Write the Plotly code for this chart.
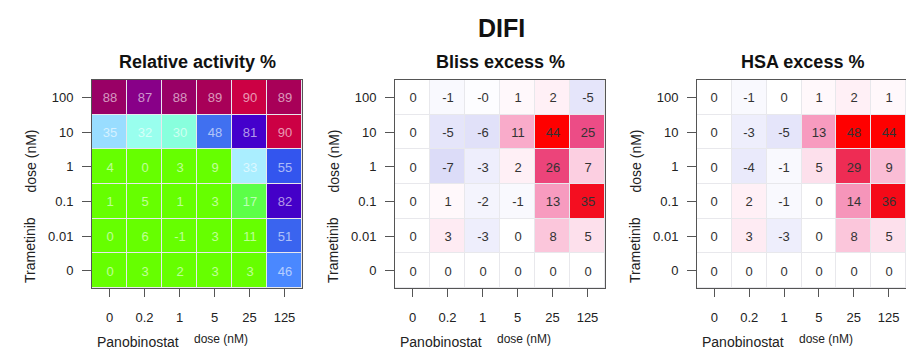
import plotly.graph_objects as go

W, H = 906, 352

# ---------------- data ----------------
pano_doses = ["0", "0.2", "1", "5", "25", "125"]          # x (Panobinostat, nM)
tram_doses = ["100", "10", "1", "0.1", "0.01", "0"]        # y, top to bottom (Trametinib, nM)

relative_activity = [
    [88, 87, 88, 89, 90, 89],
    [35, 32, 30, 48, 81, 90],
    [4, 0, 3, 9, 33, 55],
    [1, 5, 1, 3, 17, 82],
    [0, 6, -1, 3, 11, 51],
    [0, 3, 2, 3, 3, 46],
]
bliss_excess = [
    [0, -1, -0.3, 1, 2, -5],
    [0, -5, -6, 11, 44, 25],
    [0, -7, -3, 2, 26, 7],
    [0, 1, -2, -1, 13, 35],
    [0, 3, -3, 0, 8, 5],
    [0, 0, 0, 0, 0, 0],
]
hsa_excess = [
    [0, -1, 0, 1, 2, 1],
    [0, -3, -5, 13, 48, 44],
    [0, -4, -1, 5, 29, 9],
    [0, 2, -1, 0, 14, 36],
    [0, 3, -3, 0, 8, 5],
    [0, 0, 0, 0, 0, 0],
]

panel_titles = ["Relative activity %", "Bliss excess %", "HSA excess %"]
main_title = "DIFI"

# ---------------- styles ----------------
activity_scale = [
    [0.00, "#66ff00"], [0.12, "#66ff00"], [0.17, "#5cff48"],
    [0.30, "#88ffdd"], [0.32, "#99ffee"], [0.33, "#aaeeff"],
    [0.35, "#99ddff"], [0.46, "#4a88ff"], [0.48, "#4070f0"],
    [0.55, "#3355ee"], [0.81, "#4400cc"], [0.82, "#4400c8"],
    [0.87, "#880088"], [0.88, "#990066"], [0.89, "#a80058"],
    [0.90, "#cc0044"], [1.00, "#cc0044"],
]
excess_scale = [
    [0.00, "#b8b8f4"], [0.43, "#dcdcf8"], [0.47, "#eeeefc"],
    [0.50, "#ffffff"], [0.52, "#fff0f6"], [0.55, "#fde0ec"],
    [0.58, "#fbc6db"], [0.62, "#f8a2c4"], [0.75, "#ec4c86"],
    [0.80, "#ee2448"], [0.86, "#f50a18"], [0.94, "#ff0000"],
    [1.00, "#ff0000"],
]

FONT = "Liberation Sans, Arial, sans-serif"
AXC = "#555555"

def fmt(v):
    return f"{v:.0f}"

def px_x(p):
    return p / W

def px_y(p):
    return 1 - p / H

panels = [
    dict(z=relative_activity, cs=activity_scale, zmin=0, zmax=100,
         tc="rgba(255,255,255,0.6)", left=92, right=302),
    dict(z=bliss_excess, cs=excess_scale, zmin=-50, zmax=50,
         tc="#333333", left=395, right=605),
    dict(z=hsa_excess, cs=excess_scale, zmin=-50, zmax=50,
         tc="#333333", left=697, right=906),
]
TOP, BOTTOM = 80, 288

def ann(text, x, y, size, xanchor="center", yanchor="middle", angle=0, color="#222"):
    return dict(text=text, x=px_x(x), y=px_y(y), xref="paper", yref="paper",
                showarrow=False, xanchor=xanchor, yanchor=yanchor, textangle=angle,
                font=dict(family=FONT, size=size, color=color))

fig = go.Figure()
annotations = []
for i, p in enumerate(panels):
    n = "" if i == 0 else str(i + 1)
    text = [[fmt(v) for v in row] for row in p["z"]]
    fig.add_trace(go.Heatmap(
        z=p["z"], x=pano_doses, y=tram_doses, text=text,
        texttemplate="%{text}",
        textfont=dict(family=FONT, size=13, color=p["tc"]),
        colorscale=p["cs"], zmin=p["zmin"], zmax=p["zmax"],
        showscale=False, xgap=1, ygap=1, hoverinfo="skip",
        xaxis="x" + n, yaxis="y" + n,
    ))
    fig.layout["xaxis" + n] = dict(
        domain=[px_x(p["left"]), px_x(p["right"])], anchor="y" + n,
        type="category", showgrid=False, zeroline=False,
        showline=True, linecolor=AXC, linewidth=1, mirror=True,
        ticks="outside", ticklen=8, tickcolor=AXC, ticklabelstandoff=9,
        tickfont=dict(family=FONT, size=13, color="#222"),
    )
    fig.layout["yaxis" + n] = dict(
        domain=[px_y(BOTTOM), px_y(TOP)], anchor="x" + n,
        type="category", autorange="reversed", showgrid=False, zeroline=False,
        showline=True, linecolor=AXC, linewidth=1, mirror=(i < 2),
        ticks="outside", ticklen=9, tickcolor=AXC, ticklabelstandoff=6,
        tickfont=dict(family=FONT, size=13, color="#222"),
    )
    L = p["left"]
    cx = L + 105
    annotations.append(ann("<b>" + panel_titles[i] + "</b>", cx, 62, 18, color="#111"))
    annotations.append(ann("Panobinostat", L + 3, 342, 14, xanchor="left"))
    annotations.append(ann("dose (nM)", L + 100, 339, 12, xanchor="left"))
    annotations.append(ann("Trametinib", L - 62, 285, 14, yanchor="bottom", angle=-90))
    annotations.append(ann("dose (nM)", L - 62, 195, 14, yanchor="bottom", angle=-90))

annotations.append(ann("<b>" + main_title + "</b>", 501, 28, 25, color="#111"))

fig.update_layout(
    width=W, height=H, margin=dict(l=0, r=0, t=0, b=0),
    paper_bgcolor="white", plot_bgcolor="#e8e8ec",
    annotations=annotations, showlegend=False,
)
fig.write_html("out.html", config={"displayModeBar": False},
               post_script="document.body.style.margin='0';")
